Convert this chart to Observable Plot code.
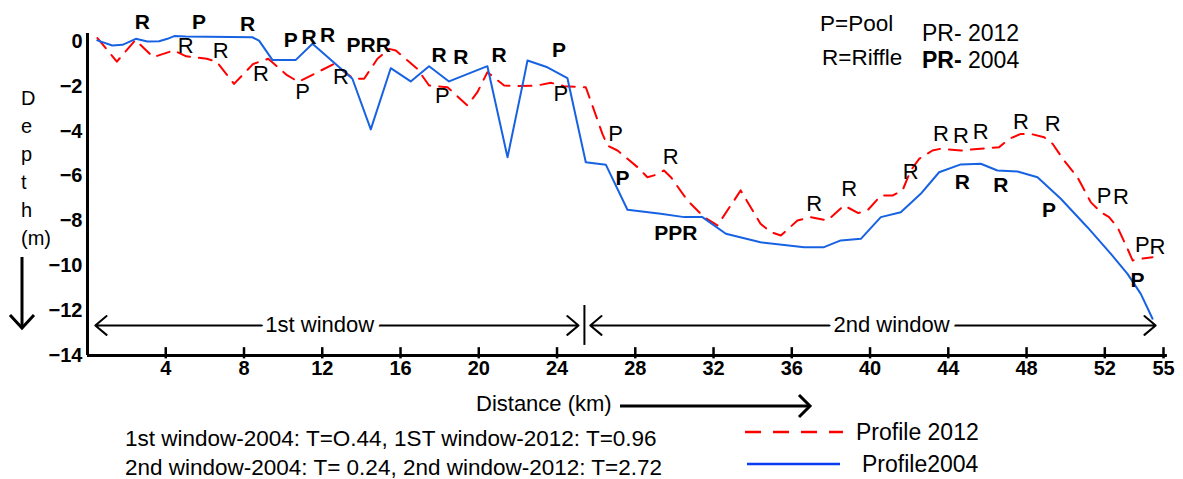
<!DOCTYPE html>
<html>
<head>
<meta charset="utf-8">
<script src="https://cdn.jsdelivr.net/npm/d3@7"></script>
<script src="https://cdn.jsdelivr.net/npm/@observablehq/plot@0.6"></script>
<style>
  html, body { margin: 0; padding: 0; background: #fff; }
  #wrap { position: relative; width: 1183px; height: 479px; background: #fff; overflow: hidden; }
  #chart { position: absolute; left: 0; top: 0; }
  #overlay { position: absolute; left: 0; top: 0; }
  #chart svg g[aria-label="x-axis tick label"] text,
  #chart svg g[aria-label="y-axis tick label"] text { font-weight: bold; }
  text { font-family: "Liberation Sans", Arial, sans-serif; }
</style>
</head>
<body>
<div id="wrap">
  <div id="chart"></div>
  <svg id="overlay" width="1183" height="479" font-family="Liberation Sans, Arial, sans-serif"></svg>
</div>
<script>
// ---------- data ----------
const km2004 = [0.5, 1.27, 1.79, 2.47, 3.06, 3.66, 4.09, 4.43, 5.02, 8.43, 8.77, 9.45, 10.65, 11.5, 13.54, 14.48, 15.5, 16.52, 17.46, 18.48, 20.44, 21.47, 22.32, 22.49, 23.51, 24.53, 25.47, 26.5, 27.6, 29.3, 30.5, 31.43, 32.63, 34.4, 36.63, 37.65, 38.5, 39.53, 40.55, 41.57, 42.59, 43.53, 44.64, 45.66, 46.51, 47.54, 48.56, 49.75, 51.11, 52.31, 53.16, 53.84, 54.44];
const depth2004 = [0.05, -0.18, -0.15, 0.12, 0.0, 0.01, 0.12, 0.24, 0.22, 0.19, 0.04, -0.82, -0.82, -0.1, -1.66, -3.92, -1.19, -1.78, -1.1, -1.78, -1.1, -5.16, -1.59, -0.85, -1.15, -1.63, -5.38, -5.5, -7.5, -7.68, -7.83, -7.83, -8.57, -8.95, -9.17, -9.17, -8.87, -8.8, -7.83, -7.61, -6.79, -5.83, -5.48, -5.45, -5.75, -5.8, -6.05, -7.01, -8.28, -9.47, -10.36, -11.25, -12.36];

const km2012 = [0.51, 1.5, 2.45, 3.36, 4.4, 5.05, 6.1, 6.6, 7.49, 8.47, 9.24, 10.2, 10.78, 12.6, 13.6, 14.14, 14.82, 15.42, 15.76, 16.36, 16.86, 17.46, 18.4, 19.42, 19.93, 20.44, 21.3, 22.0, 23.0, 23.68, 24.36, 25.47, 25.9, 26.32, 26.58, 27.09, 28.11, 28.62, 28.96, 29.47, 29.82, 30.67, 31.52, 32.2, 33.39, 34.4, 34.93, 35.44, 36.29, 36.97, 37.82, 38.67, 39.4, 39.9, 40.55, 41.15, 41.66, 42.08, 42.51, 43.19, 43.62, 44.64, 45.66, 46.6, 47.11, 47.71, 48.22, 48.9, 49.33, 49.92, 50.6, 51.28, 51.8, 52.22, 52.65, 53.16, 53.42, 53.84, 54.44];
const depth2012 = [0.15, -0.9, 0.07, -0.7, -0.4, -0.66, -0.77, -0.9, -1.89, -1.0, -0.77, -1.5, -1.8, -1.0, -1.66, -1.66, -0.77, -0.33, -0.4, -0.85, -1.22, -1.96, -2.04, -2.85, -2.26, -1.37, -1.96, -1.99, -1.96, -1.84, -1.99, -2.04, -3.08, -4.12, -4.64, -4.86, -5.6, -6.05, -5.97, -5.75, -6.05, -7.09, -7.83, -8.2, -6.64, -8.13, -8.5, -8.65, -7.98, -7.83, -7.98, -7.31, -7.65, -7.5, -6.87, -6.87, -6.64, -5.75, -5.23, -4.86, -4.78, -4.86, -4.78, -4.71, -4.34, -4.12, -4.12, -4.27, -4.56, -5.31, -6.05, -7.16, -7.61, -7.83, -8.28, -9.24, -9.76, -9.69, -9.62];

// Pool / Riffle labels, 2004 (bold)
const lab2004Text  = ["R", "P", "R", "P", "R", "R", "PRR", "R", "R", "R", "P", "P", "PPR", "R", "R", "P", "P"];
const lab2004Km    = [2.8, 5.7, 8.18, 10.39, 11.33, 12.27, 14.37, 17.97, 19.08, 21.04, 24.1, 27.35, 30.07, 44.72, 46.68, 49.15, 53.67];
const lab2004Depth = [0.86, 0.86, 0.79, 0.04, 0.19, 0.27, -0.18, -0.62, -0.7, -0.62, -0.4, -6.12, -8.57, -6.27, -6.42, -7.53, -10.66];

// Pool / Riffle labels, 2012 (regular)
const lab2012Text  = ["R", "R", "R", "P", "R", "P", "P", "P", "R", "R", "R", "R", "R", "R", "R", "R", "R", "P", "R", "P", "R"];
const lab2012Km    = [5.02, 6.81, 8.86, 10.99, 12.95, 18.14, 24.19, 27.0, 29.81, 37.14, 38.93, 42.08, 43.62, 44.64, 45.66, 47.71, 49.33, 51.96, 52.82, 53.92, 54.69];
const lab2012Depth = [-0.18, -0.4, -1.44, -2.26, -1.59, -2.41, -2.33, -4.12, -5.16, -7.24, -6.57, -5.83, -4.12, -4.19, -4.04, -3.6, -3.67, -6.87, -6.94, -9.09, -9.17];

// windows
const windowNames = ["1st window", "2nd window"];
const windowStart = [0.4, 25.7];
const windowEnd = [25.1, 54.6];
const windowLabelKm = [11.87, 41.1];
const windowDepth = -12.66;
const windowDivider = [25.4];

// axes
const xTicks = [4, 8, 12, 16, 20, 24, 28, 32, 36, 40, 44, 48, 52, 55];
const yTicks = [0, -2, -4, -6, -8, -10, -12, -14];

// ---------- build tables ----------
const profile2004 = km2004.map((k, i) => ({km: k, depth: depth2004[i]}));
const profile2012 = km2012.map((k, i) => ({km: k, depth: depth2012[i]}));
const labels2004 = lab2004Text.map((t, i) => ({t, km: lab2004Km[i], depth: lab2004Depth[i]}));
const labels2012 = lab2012Text.map((t, i) => ({t, km: lab2012Km[i], depth: lab2012Depth[i]}));
const windows = windowNames.map((n, i) => ({name: n, start: windowStart[i], end: windowEnd[i], mid: windowLabelKm[i]}));
const windowArrows = windows.flatMap(w => [
  {x1: w.mid, x2: w.start}, {x1: w.mid, x2: w.end}
]);

const BLUE = "#1762e3";
const RED = "#ff0000";

const chart = Plot.plot({
  width: 1183,
  height: 390,
  marginLeft: 87,
  marginRight: 20,
  marginTop: 41,
  marginBottom: 35,
  x: {domain: [0, 55]},
  y: {domain: [-14, 0]},
  style: {fontFamily: "Liberation Sans, Arial, sans-serif", background: "white", color: "black"},
  marks: [
    Plot.axisX({ticks: xTicks, tickSize: 0, tickPadding: 5, fontSize: 20, fontWeight: "bold", label: null}),
    Plot.axisY({ticks: yTicks, tickSize: 0, tickPadding: 5, fontSize: 20, fontWeight: "bold", label: null}),
    Plot.ruleY([-14], {x1: 0, x2: 55.2, stroke: "black", strokeWidth: 3}),
    Plot.ruleX([0], {y1: -14, y2: 0.36, stroke: "black", strokeWidth: 3}),
    Plot.ruleX(xTicks, {y1: -14.15, y2: -13.65, stroke: "black", strokeWidth: 2.5}),
    Plot.line(profile2012, {x: "km", y: "depth", stroke: RED, strokeWidth: 2, strokeDasharray: "13,9"}),
    Plot.line(profile2004, {x: "km", y: "depth", stroke: BLUE, strokeWidth: 2}),
    Plot.arrow(windowArrows, {x1: "x1", x2: "x2", y1: windowDepth, y2: windowDepth, bend: 0, headLength: 11, headAngle: 80, stroke: "black", strokeWidth: 2}),
    Plot.ruleX(windowDivider, {y1: -11.77, y2: -13.55, stroke: "black", strokeWidth: 2}),
    Plot.text(windows, {x: "mid", y: windowDepth, text: "name", fontSize: 22, fill: "black", stroke: "white", strokeWidth: 12, paintOrder: "stroke"}),
    Plot.text(labels2012, {x: "km", y: "depth", text: "t", fontSize: 22, fill: "black"}),
    Plot.text(labels2004, {x: "km", y: "depth", text: "t", fontSize: 21, fontWeight: "bold", fill: "black"})
  ]
});
document.getElementById("chart").appendChild(chart);

// ---------- annotations outside the plot ----------
const ov = d3.select("#overlay");
const depthLetters = ["D", "e", "p", "t", "h", "(m)"];
depthLetters.forEach((c, i) => {
  ov.append("text").attr("x", 21).attr("y", 105 + i * 28).attr("font-size", 20).text(c);
});
// down arrow
ov.append("line").attr("x1", 22).attr("y1", 257).attr("x2", 22).attr("y2", 328).attr("stroke", "black").attr("stroke-width", 3);
ov.append("path").attr("d", "M10,315 L22,328 L34,315").attr("fill", "none").attr("stroke", "black").attr("stroke-width", 3);

// top legend
ov.append("text").attr("x", 820).attr("y", 31).attr("font-size", 22.5).text("P=Pool");
ov.append("text").attr("x", 822).attr("y", 65).attr("font-size", 22.5).text("R=Riffle");
ov.append("text").attr("x", 922).attr("y", 41).attr("font-size", 23).text("PR- 2012");
const t04 = ov.append("text").attr("x", 922).attr("y", 68).attr("font-size", 23);
t04.append("tspan").attr("font-weight", "bold").text("PR-");
t04.append("tspan").text(" 2004");

// x title + arrow
ov.append("text").attr("x", 476).attr("y", 411).attr("font-size", 22).text("Distance (km)");
ov.append("line").attr("x1", 620).attr("y1", 406).attr("x2", 810).attr("y2", 406).attr("stroke", "black").attr("stroke-width", 3);
ov.append("path").attr("d", "M799,395 L810,406 L799,417").attr("fill", "none").attr("stroke", "black").attr("stroke-width", 3);

// T statistics
ov.append("text").attr("x", 125).attr("y", 446).attr("font-size", 22.5).text("1st window-2004: T=O.44, 1ST window-2012: T=0.96");
ov.append("text").attr("x", 125).attr("y", 475).attr("font-size", 22.5).text("2nd window-2004: T= 0.24, 2nd window-2012: T=2.72");

// line legend
ov.append("line").attr("x1", 745).attr("y1", 432).attr("x2", 843).attr("y2", 432).attr("stroke", RED).attr("stroke-width", 2.5).attr("stroke-dasharray", "16,12");
ov.append("text").attr("x", 856).attr("y", 440).attr("font-size", 23).text("Profile 2012");
ov.append("line").attr("x1", 747).attr("y1", 464).attr("x2", 840).attr("y2", 464).attr("stroke", "#0a3cf0").attr("stroke-width", 2.5);
ov.append("text").attr("x", 862).attr("y", 472).attr("font-size", 23).text("Profile2004");
</script>
</body>
</html>
